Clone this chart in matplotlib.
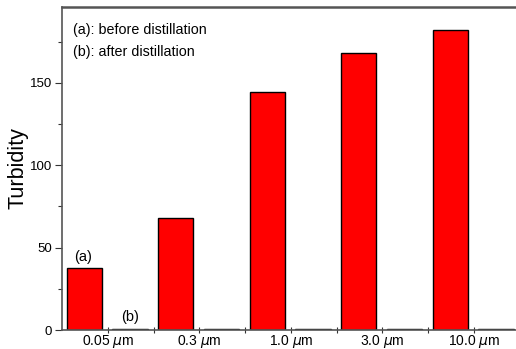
import numpy as np
import matplotlib
matplotlib.use("Agg")
import matplotlib.pyplot as plt
from matplotlib.ticker import MultipleLocator, FixedLocator

sizes = ["0.05 $\\mu$m", "0.3 $\\mu$m", "1.0 $\\mu$m", "3.0 $\\mu$m", "10.0 $\\mu$m"]
before = [37.5, 67.9, 144.4, 168.1, 181.8]
after = [0.8, 0.8, 0.8, 0.8, 0.8]

plt.rcParams['font.family'] = ['Liberation Sans', 'DejaVu Sans']

fig = plt.figure(figsize=(5.16, 3.49), dpi=100)
ax = fig.add_axes([0.120, 0.0544, 0.880, 0.9256])

x = np.arange(len(sizes))
ax.bar(x - 0.26, before, width=0.38, color='#ff0000', edgecolor='black', linewidth=1.0)
ax.bar(x + 0.24, after, width=0.39, color='black', edgecolor='black', linewidth=1.0)

ax.set_xlim(-0.503, 4.46)
ax.set_ylim(0, 196)

ax.xaxis.set_major_locator(FixedLocator(x))
ax.xaxis.set_minor_locator(FixedLocator(x[:-1] + 0.5))
ax.set_xticklabels(sizes)
ax.yaxis.set_major_locator(MultipleLocator(50))
ax.yaxis.set_minor_locator(MultipleLocator(25))

ax.tick_params(axis='x', which='both', direction='inout', length=5, width=0.8,
               labelsize=10, pad=0, color='#333333')
ax.tick_params(axis='y', which='major', direction='out', length=5, width=0.8,
               labelsize=9.5, pad=2, color='#333333')
ax.tick_params(axis='y', which='minor', direction='out', length=3, width=0.8,
               color='#333333')

for side in ['left', 'top', 'bottom']:
    ax.spines[side].set_color('#555555')
    ax.spines[side].set_linewidth(1.2)
ax.spines['top'].set_linewidth(1.8)
ax.spines['right'].set_visible(False)

ax.set_ylabel("Turbidity", fontsize=15.5, labelpad=1)

ax.text(-0.27, 44.3, "(a)", ha='center', va='center', fontsize=10.5)
ax.text(0.24, 8.1, "(b)", ha='center', va='center', fontsize=10.5)
ax.text(0.024, 0.929, "(a): before distillation", transform=ax.transAxes,
        ha='left', va='center', fontsize=10.3)
ax.text(0.024, 0.861, "(b): after distillation", transform=ax.transAxes,
        ha='left', va='center', fontsize=10.3)

fig.savefig("out.png", dpi=100)
